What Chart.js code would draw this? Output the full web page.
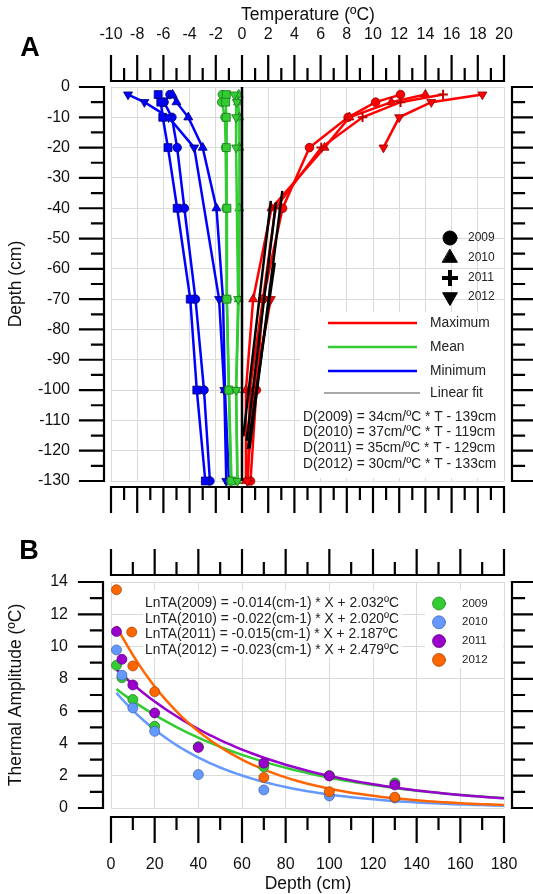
<!DOCTYPE html>
<html>
<head>
<meta charset="utf-8">
<title>Soil temperature profiles and thermal amplitude</title>
<script src="https://cdn.jsdelivr.net/npm/chart.js@4.4.1/dist/chart.umd.min.js"></script>
<style>
  html, body { margin: 0; padding: 0; background: #fff; }
  canvas { position: absolute; left: 0; }
  #chartA { top: 0; }
  #chartB { top: 535px; }
</style>
</head>
<body>
<canvas id="chartA" width="533" height="535"></canvas>
<canvas id="chartB" width="533" height="359"></canvas>
<script>
// ---- panel A: temperature profiles (depth in cm, temperature in ºC) ----
const depthA = [-2.5, -5, -10, -20, -40, -70, -100, -130];

const max2009 = [12.1, 10.2, 8.1, 5.15, 3.1, 1.6, 1.1, 0.65];
const max2010 = [14.0, 11.4, 8.2, 6.3, 2.25, 0.85, 0.3, 0.3];
const max2011 = [15.35, 12.1, 9.2, 6.05, 2.55, 1.6, 0.6, 0.45];
const max2012 = [18.35, 14.45, 12.0, 10.8, null, 2.2, 0.9, 0.4];

const mean2009 = [-1.5, -1.55, -1.3, -1.25, -1.2, -1.15, -1.0, -0.85];
const mean2010 = [-0.25, -0.3, -0.2, -0.2, -0.2, -0.25, -0.45, -0.35];
const mean2011 = [-1.2, -1.25, -1.2, -1.2, -1.15, -1.15, -1.0, -0.8];
const mean2012 = [-0.6, -0.4, -0.45, -0.45, null, -0.3, -0.45, -0.35];

const min2009 = [-5.5, -5.95, -5.35, -4.95, -4.4, -3.55, -2.9, -2.45];
const min2010 = [-5.3, -5.0, -4.1, -3.0, -1.95, -1.45, -1.3, -1.0];
const min2011 = [-6.4, -6.2, -6.05, -5.65, -4.95, -3.95, -3.45, -2.8];
const min2012 = [-8.7, -7.45, -5.6, -3.65, null, -1.75, -1.35, -1.2];

// linear fits D = slope * T + intercept, drawn between tLow and tHigh
const fitSlope = [34, 37, 35, 30];
const fitIntercept = [-139, -119, -129, -133];
const fitTLow = [0.58, 0.1, 0.35, 0.45];
const fitTHigh = [3.08, 2.2, 2.6, 2.5];
const zeroLineDepth = [0, -130];

const tempTicks = [-10, -8, -6, -4, -2, 0, 2, 4, 6, 8, 10, 12, 14, 16, 18, 20];
const tempMinor = [-9, -7, -5, -3, -1, 1, 3, 5, 7, 9, 11, 13, 15, 17, 19];
const depthTicksA = [0, -10, -20, -30, -40, -50, -60, -70, -80, -90, -100, -110, -120, -130];
const depthMinorA = [-5, -15, -25, -35, -45, -55, -65, -75, -85, -95, -105, -115, -125];

const years = ['2009', '2010', '2011', '2012'];
const fitText = [
  'D(2009) = 34cm/ºC * T - 139cm',
  'D(2010) = 37cm/ºC * T - 119cm',
  'D(2011) = 35cm/ºC * T - 129cm',
  'D(2012) = 30cm/ºC * T - 133cm'
];

// ---- panel B: thermal amplitude vs depth ----
const depthB = [2.5, 5, 10, 20, 40, 70, 100, 130];
const depthB2012 = [2.5, 9.5, 10, 20, 40, 70, 100, 130];
const amp2009 = [8.84, 8.07, 6.72, 5.06, 3.8, 2.55, 2.0, 1.55];
const amp2010 = [9.79, 8.23, 6.2, 4.75, 2.07, 1.12, 0.75, 0.62];
const amp2011 = [10.93, 9.21, 7.62, 5.89, 3.75, 2.78, 1.99, 1.43];
const amp2012 = [13.52, 10.9, 8.8, 7.2, null, 1.89, 1.01, 0.67];

// LnTA = slope * X + intercept
const lnSlope = [-0.014, -0.022, -0.015, -0.023];
const lnIntercept = [2.032, 2.020, 2.187, 2.479];
const lnText = [
  'LnTA(2009) = -0.014(cm-1) * X + 2.032ºC',
  'LnTA(2010) = -0.022(cm-1) * X + 2.020ºC',
  'LnTA(2011) = -0.015(cm-1) * X + 2.187ºC',
  'LnTA(2012) = -0.023(cm-1) * X + 2.479ºC'
];

const ampTicks = [0, 2, 4, 6, 8, 10, 12, 14];
const ampMinor = [1, 3, 5, 7, 9, 11, 13];
const depthTicksB = [0, 20, 40, 60, 80, 100, 120, 140, 160, 180];
const depthMinorB = [10, 30, 50, 70, 90, 110, 130, 150, 170];

// ---- styles ----
const FONT = '"Liberation Sans", Arial, Helvetica, sans-serif';
const GRID = '#dadada';
const INK = '#111';
const symbols = ['circle', 'triangle', 'rect', 'triangle'];
const symbolRot = [0, 0, 0, 180];
const symbolSize = [4.3, 5.2, 5.6, 5.2];
const ampColors = ['#33cc33', '#6699ff', '#9900cc', '#ff6600'];
const ampEdges = ['#1d7a1d', '#3a5fb0', '#5a0078', '#a04000'];

function font(size, bold) {
  return (bold ? 'bold ' : '') + size + 'px ' + FONT;
}

function hAxis(ctx, scale, y, majors, minors, dir) {
  ctx.beginPath();
  ctx.moveTo(scale.getPixelForValue(majors[0]), y);
  ctx.lineTo(scale.getPixelForValue(majors[majors.length - 1]), y);
  majors.forEach(function(v) {
    const x = scale.getPixelForValue(v);
    ctx.moveTo(x, y);
    ctx.lineTo(x, y + dir * 25);
  });
  minors.forEach(function(v) {
    const x = scale.getPixelForValue(v);
    ctx.moveTo(x, y);
    ctx.lineTo(x, y + dir * 12);
  });
  ctx.stroke();
}

function vAxis(ctx, scale, x, majors, minors, dir) {
  ctx.beginPath();
  ctx.moveTo(x, scale.getPixelForValue(majors[0]));
  ctx.lineTo(x, scale.getPixelForValue(majors[majors.length - 1]));
  majors.forEach(function(v) {
    const y = scale.getPixelForValue(v);
    ctx.moveTo(x, y);
    ctx.lineTo(x + dir * 24, y);
  });
  minors.forEach(function(v) {
    const y = scale.getPixelForValue(v);
    ctx.moveTo(x, y);
    ctx.lineTo(x + dir * 12, y);
  });
  ctx.stroke();
}

function rotatedText(ctx, text, x, y) {
  ctx.save();
  ctx.translate(x, y);
  ctx.rotate(-Math.PI / 2);
  ctx.textAlign = 'center';
  ctx.textBaseline = 'middle';
  ctx.fillText(text, 0, 0);
  ctx.restore();
}

function setPen(ctx) {
  ctx.strokeStyle = '#000';
  ctx.lineWidth = 2.2;
  ctx.lineCap = 'square';
  ctx.fillStyle = INK;
}

// ---- panel A datasets ----
function profileSet(temps, color, edge, yr, order, extra) {
  return Object.assign({
    data: temps.map((t, i) => ({ x: t, y: depthA[i] })),
    showLine: true,
    borderColor: color,
    backgroundColor: color,
    borderWidth: 2.5,
    pointBackgroundColor: color,
    pointBorderColor: edge,
    pointBorderWidth: 0.8,
    pointStyle: symbols[yr],
    pointRotation: symbolRot[yr],
    pointRadius: symbolSize[yr],
    spanGaps: true,
    tension: 0,
    clip: false,
    order: order
  }, extra || {});
}

const RED = '#ff0000', RED_EDGE = '#8a0000';
const GREEN = '#33cc33', GREEN_EDGE = '#1d7a1d';
const BLUE = '#0000ff', BLUE_EDGE = '#000070';

const datasetsA = [
  profileSet(max2009, RED, RED_EDGE, 0, 5),
  profileSet(max2010, RED, RED_EDGE, 1, 4),
  profileSet(max2011, RED, RED_EDGE, 2, 3,
    { pointStyle: 'cross', pointBorderColor: '#c00000', pointBorderWidth: 2, pointRadius: 4.8 }),
  profileSet(max2012, RED, RED_EDGE, 3, 2, { spanGaps: false }),
  profileSet(mean2009, GREEN, GREEN_EDGE, 0, 9),
  profileSet(mean2010, GREEN, GREEN_EDGE, 1, 8),
  profileSet(mean2011, GREEN, GREEN_EDGE, 2, 7),
  profileSet(mean2012, GREEN, GREEN_EDGE, 3, 6),
  profileSet(min2009, BLUE, BLUE_EDGE, 0, 13),
  profileSet(min2010, BLUE, BLUE_EDGE, 1, 12),
  profileSet(min2011, BLUE, BLUE_EDGE, 2, 11),
  profileSet(min2012, BLUE, BLUE_EDGE, 3, 10),
  {
    data: zeroLineDepth.map(d => ({ x: 0, y: d })),
    showLine: true, borderColor: '#000', borderWidth: 2.5, pointRadius: 0, order: 1
  }
];

fitSlope.forEach(function(a, i) {
  datasetsA.push({
    data: [fitTLow[i], fitTHigh[i]].map(t => ({ x: t, y: a * t + fitIntercept[i] })),
    showLine: true, borderColor: '#000', borderWidth: 2.5, pointRadius: 0, order: 0
  });
});

const frameA = {
  id: 'frameA',
  beforeDatasetsDraw(chart) {
    const ctx = chart.ctx;
    ctx.save();
    ctx.fillStyle = '#fff';
    ctx.fillRect(300, 312, 204, 166);
    ctx.restore();
  },
  afterDraw(chart) {
    const ctx = chart.ctx;
    const x = chart.scales.x, y = chart.scales.y;
    ctx.save();
    setPen(ctx);
    hAxis(ctx, x, 81, tempTicks, tempMinor, -1);
    hAxis(ctx, x, 487, tempTicks, tempMinor, 1);
    vAxis(ctx, y, 104, depthTicksA, depthMinorA, -1);
    vAxis(ctx, y, 512, depthTicksA, depthMinorA, 1);

    ctx.font = font(16);
    ctx.textAlign = 'center';
    ctx.textBaseline = 'middle';
    tempTicks.forEach(v => ctx.fillText(String(v), x.getPixelForValue(v), 35));
    ctx.textAlign = 'right';
    depthTicksA.forEach(v => ctx.fillText(String(v), 70, y.getPixelForValue(v)));

    ctx.font = font(17.5);
    ctx.textAlign = 'center';
    ctx.fillText('Temperature (ºC)', 308, 15);
    rotatedText(ctx, 'Depth (cm)', 16, 284);

    ctx.font = font(27, true);
    ctx.fillStyle = '#000';
    ctx.fillText('A', 30, 49);

    // year symbols
    const symY = [238, 258, 278, 297];
    ctx.font = font(12);
    ctx.textAlign = 'left';
    years.forEach(function(yr, i) {
      ctx.fillStyle = '#000';
      ctx.strokeStyle = '#000';
      if (i === 2) {
        ctx.lineWidth = 4;
        ctx.lineCap = 'butt';
        Chart.helpers.drawPoint(ctx, { pointStyle: 'cross', radius: 8, borderWidth: 4, rotation: 0 }, 450, symY[i]);
      } else {
        ctx.lineWidth = 1;
        Chart.helpers.drawPoint(ctx, { pointStyle: symbols[i], radius: i === 0 ? 7 : 8.5, borderWidth: 1, rotation: symbolRot[i] }, 450, symY[i]);
      }
      ctx.fillStyle = '#222';
      ctx.fillText(yr, 468, symY[i]);
    });

    // series key
    const keys = [
      { label: 'Maximum', color: RED, width: 2.5, y: 323, x0: 328, x1: 417 },
      { label: 'Mean', color: GREEN, width: 2.5, y: 347, x0: 328, x1: 417 },
      { label: 'Minimum', color: BLUE, width: 2.5, y: 371, x0: 328, x1: 417 },
      { label: 'Linear fit', color: '#555', width: 1.2, y: 393, x0: 324, x1: 420 }
    ];
    ctx.font = font(13.8);
    keys.forEach(function(k) {
      ctx.strokeStyle = k.color;
      ctx.lineWidth = k.width;
      ctx.lineCap = 'butt';
      ctx.beginPath();
      ctx.moveTo(k.x0, k.y);
      ctx.lineTo(k.x1, k.y);
      ctx.stroke();
      ctx.fillStyle = '#222';
      ctx.fillText(k.label, 430, k.y);
    });
    fitText.forEach((t, i) => ctx.fillText(t, 303, 417 + i * 15.6));
    ctx.restore();
  }
};

new Chart(document.getElementById('chartA'), {
  type: 'scatter',
  data: { datasets: datasetsA },
  options: {
    responsive: false,
    animation: false,
    layout: { padding: { left: 111, right: 29, top: 87, bottom: 54 } },
    plugins: { legend: { display: false }, tooltip: { enabled: false } },
    scales: {
      x: {
        type: 'linear', min: -10, max: 20,
        ticks: { display: false, stepSize: 2 },
        grid: { color: GRID, drawTicks: false },
        border: { display: false }
      },
      y: {
        type: 'linear', min: -130, max: 0,
        ticks: { display: false, stepSize: 10 },
        grid: { color: GRID, drawTicks: false },
        border: { display: false }
      }
    }
  },
  plugins: [frameA]
});

// ---- panel B datasets ----
const ampSeries = [amp2009, amp2010, amp2011, amp2012];
const ampDepths = [depthB, depthB, depthB, depthB2012];
const curveDepths = [];
for (let d = 2.5; d <= 180; d += 2.5) curveDepths.push(d);

const datasetsB = [];
ampSeries.forEach(function(vals, i) {
  datasetsB.push({
    data: vals.map((v, k) => ({ x: ampDepths[i][k], y: v })),
    showLine: false,
    pointStyle: 'circle',
    pointRadius: 5,
    pointBackgroundColor: ampColors[i],
    pointBorderColor: ampEdges[i],
    pointBorderWidth: 0.7,
    clip: false,
    order: 4 - i
  });
  datasetsB.push({
    data: curveDepths.map(d => ({ x: d, y: Math.exp(lnSlope[i] * d + lnIntercept[i]) })),
    showLine: true,
    borderColor: ampColors[i],
    borderWidth: 2.5,
    pointRadius: 0,
    tension: 0,
    order: 14 - i
  });
});

const frameB = {
  id: 'frameB',
  beforeDatasetsDraw(chart) {
    const ctx = chart.ctx;
    ctx.save();
    ctx.fillStyle = '#fff';
    ctx.fillRect(143, 55, 259, 67);
    ctx.fillRect(425, 55, 78, 78);
    ctx.restore();
  },
  afterDraw(chart) {
    const ctx = chart.ctx;
    const x = chart.scales.x, y = chart.scales.y;
    ctx.save();
    setPen(ctx);
    hAxis(ctx, x, 40, depthTicksB, depthMinorB, -1);
    hAxis(ctx, x, 282, depthTicksB, depthMinorB, 1);
    vAxis(ctx, y, 103, ampTicks, ampMinor, -1);
    vAxis(ctx, y, 512, ampTicks, ampMinor, 1);

    ctx.font = font(16);
    ctx.textAlign = 'center';
    ctx.textBaseline = 'middle';
    depthTicksB.forEach(v => ctx.fillText(String(v), x.getPixelForValue(v), 330));
    ctx.textAlign = 'right';
    ampTicks.forEach(v => ctx.fillText(String(v), 68, y.getPixelForValue(v)));

    ctx.font = font(17.5);
    ctx.textAlign = 'center';
    ctx.fillText('Depth (cm)', 308, 349);
    rotatedText(ctx, 'Thermal Amplitude (ºC)', 16, 160);

    ctx.font = font(27, true);
    ctx.fillStyle = '#000';
    ctx.fillText('B', 29, 17);

    ctx.font = font(13.8);
    ctx.textAlign = 'left';
    ctx.fillStyle = '#222';
    lnText.forEach((t, i) => ctx.fillText(t, 145, 68.5 + i * 15.5));

    ctx.font = font(11.5);
    years.forEach(function(yr, i) {
      const ly = 68.5 + i * 18.8;
      ctx.fillStyle = ampColors[i];
      ctx.strokeStyle = ampEdges[i];
      ctx.lineWidth = 0.7;
      Chart.helpers.drawPoint(ctx, { pointStyle: 'circle', radius: 6.5, borderWidth: 0.7, rotation: 0 }, 439, ly);
      ctx.fillStyle = '#222';
      ctx.fillText(yr, 462, ly);
    });
    ctx.restore();
  }
};

new Chart(document.getElementById('chartB'), {
  type: 'scatter',
  data: { datasets: datasetsB },
  options: {
    responsive: false,
    animation: false,
    layout: { padding: { left: 111, right: 29, top: 47, bottom: 86 } },
    plugins: { legend: { display: false }, tooltip: { enabled: false } },
    scales: {
      x: {
        type: 'linear', min: 0, max: 180,
        ticks: { display: false, stepSize: 20 },
        grid: { color: GRID, drawTicks: false },
        border: { display: false }
      },
      y: {
        type: 'linear', min: 0, max: 14,
        ticks: { display: false, stepSize: 2 },
        grid: { color: GRID, drawTicks: false },
        border: { display: false }
      }
    }
  },
  plugins: [frameB]
});
</script>
</body>
</html>
